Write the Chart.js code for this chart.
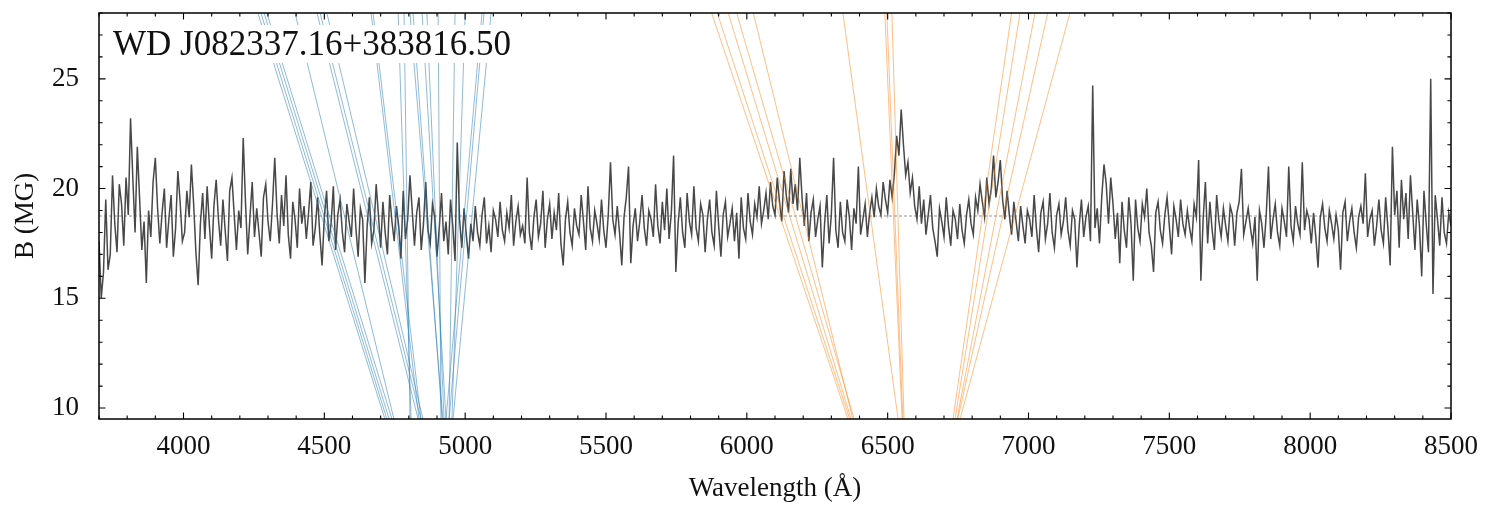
<!DOCTYPE html>
<html lang="en">
<head>
    <meta charset="UTF-8">
    <title>WD J082337.16+383816.50 - B vs wavelength</title>
    <style>
        body {
            margin: 0;
            padding: 0;
            background: #fff;
        }
        .wrap {
            width: 1494px;
            height: 519px;
            position: relative;
        }
    </style>
</head>
<body>
    <div class="wrap">
        <canvas id="specChart"></canvas>
    </div>

    <script src="https://cdn.jsdelivr.net/npm/chart.js"></script>
    <script>
        // spectrum, sampled on a regular wavelength grid (Angstrom)
        const specStart = 3700;
        const specStep = 8;
        const specB = [
            17.6, 15.0, 16.2, 19.5, 16.3, 17.0, 20.6, 18.4, 17.1, 20.2,
            19.3, 17.4, 20.5, 18.8, 23.2, 20.5, 18.0, 21.9, 19.6, 17.2,
            18.5, 15.7, 19.0, 17.8, 20.3, 21.4, 19.1, 17.5, 18.9, 20.0,
            17.3, 18.6, 19.7, 16.9, 18.2, 20.8, 19.4, 17.6, 18.0, 19.9,
            18.7, 21.1, 19.3, 17.1, 15.6, 18.4, 19.8, 17.7, 20.1, 18.3,
            16.8, 19.2, 20.4, 18.6, 17.4, 19.5, 18.1, 16.7, 19.9, 20.5,
            18.8, 17.2, 19.0, 18.2, 22.3, 19.4, 17.0, 18.7, 20.3, 17.8,
            19.1, 18.0, 16.9, 19.6, 20.2, 18.5, 17.6, 19.3, 21.4, 18.9,
            17.5, 19.7, 18.3, 20.6, 17.9, 16.8, 19.4, 18.6, 17.3, 20.0,
            18.4, 19.2, 17.7, 18.9, 20.3, 17.4, 18.2, 19.6, 17.9, 16.5,
            18.7, 19.9, 17.6, 18.4, 20.1, 17.2, 18.8, 19.5, 18.0, 17.1,
            19.3, 18.5, 17.8, 20.0, 18.2, 16.9, 19.1, 18.6, 15.7, 18.3,
            19.6, 17.5, 18.1, 20.2, 18.8, 17.3, 19.4, 18.0, 17.0, 19.7,
            18.5, 17.6, 19.2, 18.3, 16.8, 19.9, 17.7, 18.6, 20.6, 19.0,
            17.4, 18.9, 19.6, 17.2, 18.4, 20.3, 18.1, 17.5, 19.3, 18.7,
            16.9, 18.2, 19.8, 17.6, 18.5, 17.0, 19.5, 18.3, 16.7, 22.1,
            18.6, 17.3, 19.1, 17.9, 16.8, 18.4, 17.6, 19.2, 18.0, 17.4,
            18.8, 19.6, 17.5, 18.3, 17.1, 19.0, 18.6, 17.8, 19.4, 18.1,
            17.6, 18.9, 18.2, 19.7, 17.4, 18.5, 19.2, 17.9, 18.3, 17.5,
            20.5, 18.0, 17.2, 18.7, 19.5, 17.8, 18.4, 19.9, 17.3, 18.6,
            19.3, 17.7, 18.9, 18.1, 19.8, 17.5, 16.5, 18.6, 19.4, 18.0,
            17.4, 19.1, 18.3, 17.9, 19.7, 18.5, 17.2, 20.1, 18.2, 17.6,
            19.0, 18.4, 17.7, 19.5, 18.1, 17.3, 18.8, 21.2, 18.6, 17.9,
            19.2, 18.0, 16.5, 18.7, 19.6, 21.0, 16.6, 18.3, 19.1, 17.6,
            18.5, 19.7, 18.2, 17.4, 19.0, 18.6, 17.8, 20.2, 18.3, 17.5,
            19.4, 18.1, 20.0, 17.7, 18.9, 21.5, 16.2, 18.4, 19.6, 18.0,
            17.3, 19.8, 18.5, 17.9, 20.1, 18.2, 17.6, 19.3, 18.8, 17.1,
            18.6, 19.5, 18.0, 17.4, 19.9, 18.3, 16.9, 18.8, 19.4, 17.8,
            18.4, 19.1, 17.6, 18.9, 16.8, 19.6, 18.2, 17.7, 19.8, 18.5,
            17.9, 19.3, 18.7, 20.1, 18.4, 19.0, 19.8, 18.6, 20.3, 19.2,
            18.8, 20.5, 19.4, 18.5, 20.8, 19.7, 18.9, 20.9, 19.3, 20.2,
            19.0, 21.4, 19.6, 18.3, 19.8, 17.6, 18.9, 19.5, 17.8, 18.6,
            19.2, 16.4, 18.4, 19.7, 17.5, 18.8, 21.4, 18.1, 17.3, 19.4,
            18.0, 17.6, 19.5, 18.7, 17.2, 19.1, 18.4, 21.0, 17.9, 18.6,
            19.3, 17.8, 18.9, 19.6, 18.7, 20.0, 19.2, 18.8, 20.3, 19.5,
            18.9, 20.4, 19.6, 20.7, 22.4, 21.5, 23.6, 22.0, 20.6, 21.2,
            19.8, 20.5, 19.2, 18.6, 20.1, 18.4, 19.5, 17.9, 18.8, 19.7,
            18.2, 17.6, 16.9, 19.1, 18.5, 17.8, 19.6, 18.3, 17.4, 19.0,
            18.6, 17.7, 19.3, 18.1, 17.5, 18.8, 19.5, 18.4, 17.9, 19.6,
            19.0, 20.2, 19.4, 18.7, 20.5, 19.3, 20.0, 21.5, 19.6, 20.3,
            21.3, 19.5, 18.6, 19.9, 18.8, 17.9, 19.4, 18.5, 17.6, 19.2,
            18.3, 17.5, 19.0, 18.6, 17.8, 19.7, 18.2, 17.1, 18.9, 19.4,
            17.7, 18.4, 19.8, 18.0, 17.3, 18.8, 19.3, 17.9, 18.5, 19.6,
            18.1, 17.4, 19.0, 18.6, 16.4, 18.3, 19.5, 17.8, 18.7, 19.2,
            17.6, 24.7, 18.2, 19.1, 17.5, 19.6, 21.1, 20.2, 18.4, 20.5,
            19.3, 17.7, 18.9, 16.6, 19.4, 18.1, 17.3, 19.6, 18.4, 15.8,
            19.5, 18.2, 17.6, 19.3, 18.7, 20.0, 18.0, 17.4, 16.2, 18.9,
            19.4, 18.1, 17.5, 18.8, 19.6, 18.3, 17.0, 19.2, 18.6, 17.8,
            19.5, 18.4, 17.9, 19.0, 18.2, 17.6, 19.3, 18.7, 21.3, 15.8,
            18.6, 20.3, 17.5, 19.4, 18.1, 17.2, 19.7, 18.5, 17.8, 19.1,
            18.3, 17.6, 19.2, 18.8, 17.4, 18.9, 19.4, 20.9, 17.9, 18.5,
            19.1, 18.2, 17.5, 18.7, 15.8, 19.0, 18.4, 17.3, 18.8, 21.0,
            17.7, 18.6, 19.3, 18.0, 17.4, 19.1, 18.5, 17.8, 21.0, 18.3,
            17.6, 19.2, 18.4, 17.9, 21.2, 18.1, 19.0, 18.6, 17.5, 18.9,
            17.8, 16.4, 18.7, 19.3, 18.2, 17.6, 19.0, 18.4, 17.7, 18.8,
            18.1, 16.3, 18.9, 19.4, 17.6, 18.5, 19.1, 18.0, 17.3, 18.7,
            19.2, 18.4, 20.7, 17.8, 18.6, 19.0, 17.4, 18.3, 19.5, 18.1,
            17.5, 19.6, 18.2, 16.5, 21.9, 18.8, 19.9, 17.3, 20.4, 18.6,
            19.8, 17.7, 20.6, 18.9, 17.2, 19.5, 18.3, 16.0, 19.9, 18.4,
            17.1, 25.0, 15.2, 19.7, 18.6, 17.4, 19.6, 18.0, 17.5, 18.9,
            18.3
        ];
        const bFit = 18.75;

        // Zeeman component tracks: wavelength (Angstrom) at the top and bottom B values
        const trackBTop = 28.0;
        const trackBBottom = 9.5;
        const hbetaTop = [4264, 4275, 4286, 4296, 4396, 4474, 4485, 4509, 4666, 4673,
                          4762, 4783, 4804, 4815, 4847, 4864, 4904, 4964, 5000, 5060, 5067, 5092];
        const hbetaBottom = [4715, 4722, 4730, 4740, 4747, 4833, 4843, 4850, 4836, 4843,
                             4808, 4804, 4921, 4918, 4932, 4925, 4914, 4943, 4953, 4932, 4943, 4957];
        const halphaTop = [5875, 5895, 5934, 5964, 6023, 6341, 6490, 6497, 6515,
                           6940, 6970, 7023, 7068, 7147];
        const halphaBottom = [6359, 6365, 6370, 6381, 6376, 6537, 6551, 6554, 6558,
                              6732, 6739, 6746, 6749, 6757];

        const xTicks = [4000, 4500, 5000, 5500, 6000, 6500, 7000, 7500, 8000, 8500];
        const yTicks = [10, 15, 20, 25];
        const objName = 'WD J082337.16+383816.50';

        const serif = '"Liberation Serif", "DejaVu Serif", serif';

        const specData = specB.map((b, i) => ({ x: specStart + i * specStep, y: b }));

        function trackSets(tops, bottoms, color) {
            return tops.map((t, i) => ({
                data: [{ x: t, y: trackBTop }, { x: bottoms[i], y: trackBBottom }],
                borderColor: color,
                borderWidth: 1,
                pointRadius: 0,
                fill: false,
                order: 0
            }));
        }

        const datasets = [
            {
                data: specData,
                borderColor: '#484848',
                borderWidth: 1.5,
                pointRadius: 0,
                fill: false,
                order: 2
            },
            {
                data: [{ x: 3700, y: bFit }, { x: 8500, y: bFit }],
                borderColor: 'rgba(60,60,60,0.8)',
                borderWidth: 0.7,
                borderDash: [3, 2],
                pointRadius: 0,
                fill: false,
                order: 1
            }
        ]
            .concat(trackSets(hbetaTop, hbetaBottom, 'rgba(31,119,180,0.5)'))
            .concat(trackSets(halphaTop, halphaBottom, 'rgba(255,127,14,0.5)'));

        // white label box with the object name
        const nameBox = {
            id: 'nameBox',
            afterDatasetsDraw(chart) {
                const ctx = chart.ctx;
                const a = chart.chartArea;
                ctx.save();
                ctx.font = '35px ' + serif;
                const w = ctx.measureText(objName).width;
                ctx.fillStyle = '#fff';
                ctx.fillRect(a.left + 6, a.top + 12, w + 16, 38);
                ctx.fillStyle = '#111';
                ctx.textBaseline = 'alphabetic';
                ctx.fillText(objName, a.left + 14, a.top + 42);
                ctx.restore();
            }
        };

        // frame with inward ticks on all four sides
        const frame = {
            id: 'frame',
            afterDraw(chart) {
                const ctx = chart.ctx;
                const a = chart.chartArea;
                const xs = chart.scales.x;
                const ys = chart.scales.y;
                ctx.save();
                ctx.strokeStyle = '#000';
                ctx.lineWidth = 1.1;
                ctx.beginPath();
                for (let v = 3700; v <= 8500; v += 100) {
                    const px = xs.getPixelForValue(v);
                    const len = xTicks.includes(v) ? 6.5 : 3.6;
                    ctx.moveTo(px, a.bottom); ctx.lineTo(px, a.bottom - len);
                    ctx.moveTo(px, a.top); ctx.lineTo(px, a.top + len);
                }
                for (let v = 10; v <= 28; v += 1) {
                    const py = ys.getPixelForValue(v);
                    const len = yTicks.includes(v) ? 6.5 : 3.6;
                    ctx.moveTo(a.left, py); ctx.lineTo(a.left + len, py);
                    ctx.moveTo(a.right, py); ctx.lineTo(a.right - len, py);
                }
                ctx.stroke();
                ctx.lineWidth = 1.5;
                ctx.strokeRect(a.left, a.top, a.right - a.left, a.bottom - a.top);
                ctx.restore();
            }
        };

        new Chart(document.getElementById('specChart').getContext('2d'), {
            type: 'line',
            data: { datasets: datasets },
            plugins: [nameBox, frame],
            options: {
                responsive: true,
                maintainAspectRatio: false,
                animation: false,
                events: [],
                layout: { padding: { top: 13, right: 43, left: 0, bottom: 0 } },
                plugins: {
                    legend: { display: false },
                    tooltip: { enabled: false }
                },
                scales: {
                    x: {
                        type: 'linear',
                        min: 3700,
                        max: 8500,
                        afterBuildTicks: s => { s.ticks = xTicks.map(v => ({ value: v })); },
                        afterFit: s => {
                            s.height = 100;
                            s.paddingLeft = 0;
                            s.paddingRight = 0;
                        },
                        grid: { display: false, drawTicks: false },
                        border: { display: false },
                        ticks: {
                            padding: 12,
                            maxRotation: 0,
                            autoSkip: false,
                            color: '#111',
                            font: { family: serif, size: 27 },
                            callback: v => String(v)
                        },
                        title: {
                            display: true,
                            text: 'Wavelength (Å)',
                            color: '#111',
                            font: { family: serif, size: 27 },
                            padding: { top: 0, bottom: 14 }
                        }
                    },
                    y: {
                        type: 'linear',
                        min: 9.5,
                        max: 28,
                        afterBuildTicks: s => { s.ticks = yTicks.map(v => ({ value: v })); },
                        afterFit: s => {
                            s.width = 99;
                            s.paddingTop = 0;
                            s.paddingBottom = 0;
                        },
                        grid: { display: false, drawTicks: false },
                        border: { display: false },
                        ticks: {
                            padding: 20,
                            autoSkip: false,
                            color: '#111',
                            font: { family: serif, size: 27 },
                            callback: v => String(v)
                        },
                        title: {
                            display: true,
                            text: 'B (MG)',
                            color: '#111',
                            font: { family: serif, size: 27 },
                            padding: { top: 10, bottom: 0 }
                        }
                    }
                }
            }
        });
    </script>
</body>
</html>
